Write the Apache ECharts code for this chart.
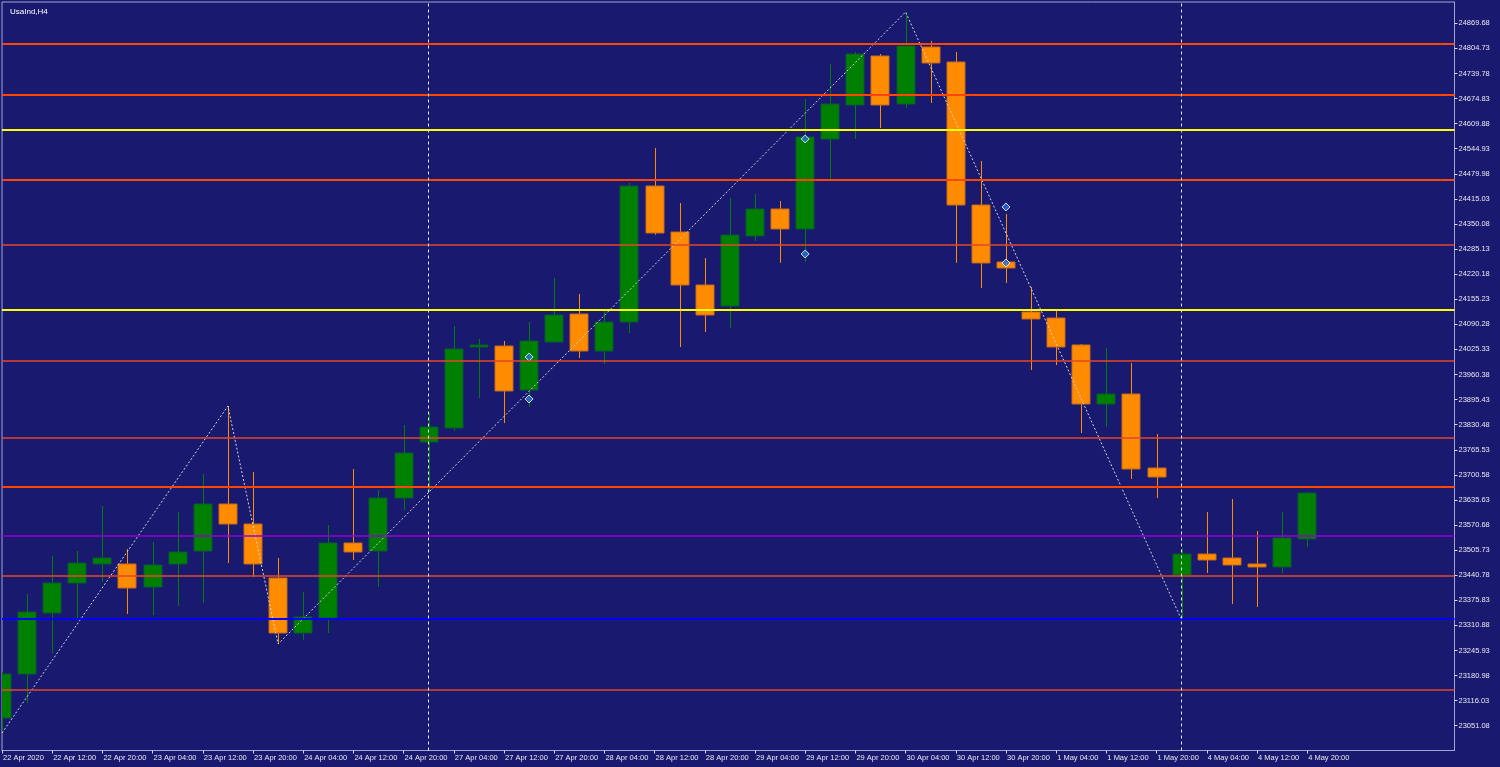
<!DOCTYPE html>
<html>
<head>
<meta charset="utf-8">
<style>
html,body{margin:0;padding:0;background:#191970;}
#c{width:1500px;height:767px;}
</style>
<script src="https://cdn.jsdelivr.net/npm/echarts@6/dist/echarts.min.js"></script>
</head>
<body>
<div id="c"></div>
<script>
// H4 bar tick labels (one every 2 bars, starting at bar 0 = 22 Apr 04:00)
const xTickLabels = ['22 Apr 2020','22 Apr 12:00','22 Apr 20:00','23 Apr 04:00','23 Apr 12:00','23 Apr 20:00','24 Apr 04:00','24 Apr 12:00','24 Apr 20:00','27 Apr 04:00','27 Apr 12:00','27 Apr 20:00','28 Apr 04:00','28 Apr 12:00','28 Apr 20:00','29 Apr 04:00','29 Apr 12:00','29 Apr 20:00','30 Apr 04:00','30 Apr 12:00','30 Apr 20:00','1 May 04:00','1 May 12:00','1 May 20:00','4 May 04:00','4 May 12:00','4 May 20:00'];

const priceTicks = [23051.08,23116.03,23180.98,23245.93,23310.88,23375.83,23440.78,23505.73,23570.68,23635.63,23700.58,23765.53,23830.48,23895.43,23960.38,24025.33,24090.28,24155.23,24220.18,24285.13,24350.08,24415.03,24479.98,24544.93,24609.88,24674.83,24739.78,24804.73,24869.68];

const opens  = [23071.0,23185.0,23342.9,23420.6,23469.8,23469.8,23410.2,23469.8,23503.4,23625.1,23573.3,23433.5,23291.1,23329.9,23524.1,23503.4,23640.6,23785.6,23821.9,24031.6,24034.2,23920.3,24044.5,24117.0,24021.2,24096.3,24448.4,24329.3,24192.1,24137.7,24319.0,24388.9,24337.1,24570.1,24658.1,24785.0,24660.7,24808.3,24769.5,24399.2,24251.7,24122.2,24106.7,24036.8,23884.0,23909.9,23718.3,23441.3,23495.6,23485.3,23469.8,23462.0,23534.5];
const closes = [23185.0,23345.5,23420.6,23472.3,23485.3,23407.6,23467.2,23500.8,23625.1,23573.3,23469.8,23291.1,23332.5,23524.1,23500.8,23640.6,23757.1,23824.5,24026.4,24036.8,23917.7,24047.1,24114.4,24021.2,24096.3,24448.4,24326.7,24192.1,24114.4,24321.6,24388.9,24337.1,24575.3,24660.7,24790.2,24658.1,24810.9,24766.9,24399.2,24249.1,24236.1,24104.1,24031.6,23884.0,23909.9,23715.7,23695.0,23495.6,23480.1,23467.2,23462.0,23537.1,23653.6];
const lows   = [23032.2,23109.9,23239.3,23329.9,23423.1,23340.3,23337.7,23361.0,23368.8,23472.3,23436.1,23262.6,23273.0,23291.1,23480.1,23410.2,23609.6,23656.2,23814.1,23899.5,23834.8,23876.2,24041.9,24003.1,23987.6,24067.8,24322.0,24031.6,24070.4,24080.8,24306.0,24249.1,24251.7,24461.4,24570.1,24598.6,24650.4,24663.3,24249.1,24184.3,24197.3,23972.0,23985.0,23808.9,23824.5,23689.8,23640.6,23324.8,23446.5,23366.2,23358.4,23446.5,23513.8];
const highs  = [23190.1,23392.1,23490.5,23503.4,23619.9,23508.6,23526.7,23604.4,23702.8,23878.8,23707.9,23485.3,23397.3,23570.7,23715.7,23661.3,23829.6,23860.7,24086.0,24052.3,24047.1,24096.3,24210.2,24168.8,24127.4,24456.2,24546.8,24404.4,24262.0,24417.4,24427.7,24409.6,24673.7,24764.3,24795.4,24790.2,24898.9,24823.9,24795.4,24513.2,24375.9,24186.9,24124.8,24039.4,24029.0,23990.2,23806.3,23511.2,23604.4,23638.0,23555.2,23604.4,23656.2];

// horizontal levels
const levelValues = [24817.4,24685.3,24593.4,24464.0,24295.7,24127.4,23995.3,23797.8,23669.1,23543.5,23440.0,23328.6,23145.4];
const levelKinds  = ['red','red','yellow','red','redThin','yellow','redThin','redThin','red','purple','redThin','blue','redThin'];

// zigzag indicator turning points [bar index, price]
const zigzagBars   = [0, 9, 11, 36, 47];
const zigzagPrices = [23032.2, 23878.8, 23262.6, 24898.9, 23324.8];

// fractal markers
const fractalBars   = [21, 21, 32, 32, 40, 40];
const fractalPrices = [24005.7, 23897.0, 24570.1, 24272.4, 24394.1, 24249.1];

// week separators (bar index)
const separatorBars = [17, 47];

const kindStyle = {
  red:     {color:'#ff4500', width:2},
  redThin: {color:'#e4462a', width:1.6},
  yellow:  {color:'#ffff00', width:2},
  purple:  {color:'#9400d3', width:1.6},
  blue:    {color:'#0000ff', width:2}
};

const candleData = opens.map((o, i) => [i, o, closes[i], lows[i], highs[i]]);
const tickIdx = xTickLabels.map((_, k) => k * 2);

const chart = echarts.init(document.getElementById('c'), null, {renderer:'canvas'});
const FONT = 'Liberation Sans';

const levelLines = levelValues.map((v, i) => ({
  name: 'lvl' + i,
  yAxis: v,
  lineStyle: {type:'solid', opacity: 1, color: kindStyle[levelKinds[i]].color, width: kindStyle[levelKinds[i]].width}
}));
const sepLines = separatorBars.map((b, i) => ({
  name: 'sep' + i,
  xAxis: b,
  lineStyle: {type:[3,3], opacity: 1, color:'#e8e8f0', width:1}
}));

chart.setOption({
  backgroundColor: '#191970',
  animation: false,
  title: {
    text: 'UsaInd,H4', left: 5, top: 3,
    textStyle: {color:'#ffffff', fontSize: 8, fontWeight:'normal', fontFamily: FONT}
  },
  grid: {
    left: 2, right: 45.5, top: 2, bottom: 16.5,
    show: true, borderColor: '#a4a4d0', borderWidth: 1, backgroundColor: 'transparent'
  },
  xAxis: {
    type: 'value', min: 0, max: 57.87,
    splitLine: {show:false},
    axisLine: {show: true, onZero: false, lineStyle: {color:'#a4a4d0', width:1}},
    axisTick: {show: true, customValues: tickIdx, length: 3, lineStyle: {color:'#d8d8f0'}},
    axisLabel: {
      show: true, customValues: tickIdx, color: '#e8e8f0', fontSize: 7.5, fontFamily: FONT,
      align: 'left', margin: 3, padding: [0,0,0,1],
      formatter: v => xTickLabels[Math.round(v / 2)] || ''
    }
  },
  yAxis: {
    type: 'value', position: 'right', min: 22986.9, max: 24924.8, scale: true,
    splitLine: {show:false},
    axisLine: {show: true, onZero: false, lineStyle: {color:'#a4a4d0', width:1}},
    axisTick: {show: true, customValues: priceTicks, length: 3, lineStyle: {color:'#d8d8f0'}},
    axisLabel: {
      show: true, customValues: priceTicks, color: '#e8e8f0', fontSize: 7.5, fontFamily: FONT,
      margin: 4, formatter: v => v.toFixed(2)
    }
  },
  series: [
    {
      type: 'line', data: [], z: 1, silent: true,
      color: '#e4462a',
      markLine: {
        silent: true, symbol: ['none','none'], animation: false,
        label: {show:false},
        emphasis: {disabled: true},
        data: levelLines
      }
    },
    {
      type: 'line', data: [], z: 1, silent: true,
      color: '#e8e8f0',
      markLine: {
        silent: true, symbol: ['none','none'], animation: false,
        label: {show:false},
        emphasis: {disabled: true},
        data: sepLines
      }
    },
    {
      type: 'custom', z: 2, clip: true,
      data: candleData,
      encode: {x: 0, y: [1,2,3,4]},
      renderItem: function (params, api) {
        const x = api.value(0), o = api.value(1), c = api.value(2), l = api.value(3), h = api.value(4);
        const pO = api.coord([x, o]), pC = api.coord([x, c]), pL = api.coord([x, l]), pH = api.coord([x, h]);
        const bw = api.size([1, 0])[0] * 0.72;
        const up = c >= o;
        const col = up ? '#008000' : '#ff8c00';
        const edge = up ? '#0b5a2e' : '#c46a1a';
        const cx = Math.round(pO[0]) + 0.5;
        const top = Math.min(pO[1], pC[1]);
        const bot = Math.max(pO[1], pC[1]);
        return {
          type: 'group',
          children: [
            {type:'line', shape:{x1:cx, y1:pH[1], x2:cx, y2:pL[1]}, style:{stroke: col, lineWidth: 1}},
            {type:'rect', shape:{x: Math.round(cx - bw/2), y: top, width: Math.round(bw), height: Math.max(bot - top, 2)},
             style:{fill: col, stroke: edge, lineWidth: 1}}
          ]
        };
      }
    },
    {
      type: 'line', z: 3, silent: true,
      data: zigzagBars.map((b, i) => [b, zigzagPrices[i]]),
      symbol: 'none',
      lineStyle: {color:'#d4d4e4', width: 1, type: [2,2]}
    },
    {
      type: 'scatter', z: 4, silent: true,
      data: fractalBars.map((b, i) => [b, fractalPrices[i]]),
      symbol: 'diamond', symbolSize: [8, 8],
      itemStyle: {color:'#2a6fd6', borderColor:'#ffffff', borderWidth: 1}
    }
  ]
});
</script>
</body>
</html>
